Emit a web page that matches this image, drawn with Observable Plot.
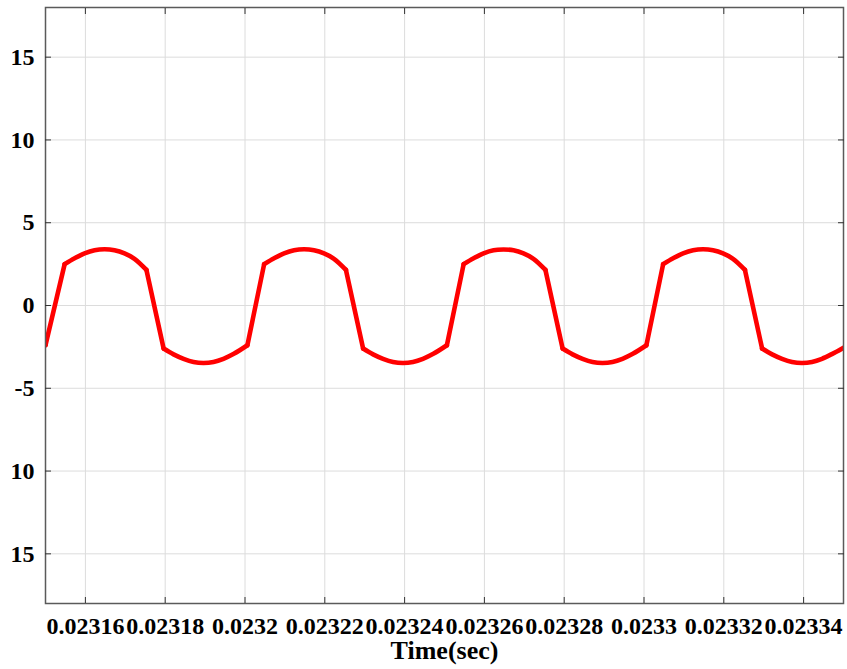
<!DOCTYPE html>
<html>
<head>
<meta charset="utf-8">
<script src="https://cdn.jsdelivr.net/npm/d3@7"></script>
<script src="https://cdn.jsdelivr.net/npm/@observablehq/plot@0.6"></script>
<style>
  html, body { margin: 0; padding: 0; background: #fff; }
  #chart { width: 847px; height: 669px; }
</style>
</head>
<body>
<div id="chart"></div>
<script>
// Time stamps (s)
const time = [
  0.0231500,
  0.0231548, 0.0231573, 0.0231598, 0.0231623, 0.0231648, 0.0231673, 0.0231698, 0.0231723, 0.0231753,
  0.0231796, 0.0231821, 0.0231846, 0.0231871, 0.0231896, 0.0231921, 0.0231946, 0.0231972, 0.0232006,
  0.0232048, 0.0232073, 0.0232098, 0.0232123, 0.0232148, 0.0232173, 0.0232198, 0.0232223, 0.0232253,
  0.0232296, 0.0232321, 0.0232346, 0.0232371, 0.0232396, 0.0232421, 0.0232446, 0.0232472, 0.0232506,
  0.0232548, 0.0232573, 0.0232598, 0.0232623, 0.0232648, 0.0232673, 0.0232698, 0.0232723, 0.0232753,
  0.0232796, 0.0232821, 0.0232846, 0.0232871, 0.0232896, 0.0232921, 0.0232946, 0.0232972, 0.0233006,
  0.0233048, 0.0233073, 0.0233098, 0.0233123, 0.0233148, 0.0233173, 0.0233198, 0.0233223, 0.0233253,
  0.0233296, 0.0233321, 0.0233346, 0.0233371, 0.0233396, 0.0233421, 0.0233446, 0.0233472, 0.0233500
];
// Signal values
const value = [
  -2.4,
  2.5, 2.85, 3.15, 3.34, 3.4, 3.34, 3.15, 2.82, 2.15,
  -2.6, -2.95, -3.22, -3.41, -3.47, -3.41, -3.22, -2.92, -2.4,
  2.5, 2.85, 3.15, 3.34, 3.4, 3.34, 3.15, 2.82, 2.15,
  -2.6, -2.95, -3.22, -3.41, -3.47, -3.41, -3.22, -2.92, -2.4,
  2.5, 2.85, 3.15, 3.34, 3.38, 3.34, 3.15, 2.82, 2.15,
  -2.6, -2.95, -3.22, -3.41, -3.47, -3.41, -3.22, -2.92, -2.4,
  2.5, 2.85, 3.15, 3.34, 3.4, 3.34, 3.15, 2.82, 2.15,
  -2.6, -2.95, -3.22, -3.41, -3.47, -3.41, -3.22, -2.92, -2.55
];

const xTicks = [0.02316, 0.02318, 0.0232, 0.02322, 0.02324, 0.02326, 0.02328, 0.0233, 0.02332, 0.02334];
const xTickLabels = ["0.02316", "0.02318", "0.0232", "0.02322", "0.02324", "0.02326", "0.02328", "0.0233", "0.02332", "0.02334"];
const yTicks = [-15, -10, -5, 0, 5, 10, 15];
const yTickLabels = ["15", "10", "-5", "0", "5", "10", "15"];
const xDomain = [0.02315, 0.02335];
const yDomain = [-18, 18];
const xLabel = "Time(sec)";

// Split samples into smooth arcs (same sign) and straight switching edges (sign change)
const arcs = [];
const edges = [];
let arcId = 0;
for (let i = 0; i < time.length; i++) {
  if (i > 0 && Math.sign(value[i]) !== Math.sign(value[i - 1])) {
    arcId++;
    edges.push({t: time[i - 1], v: value[i - 1], e: i});
    edges.push({t: time[i], v: value[i], e: i});
  }
  arcs.push({t: time[i], v: value[i], a: arcId});
}

const lineStyle = {x: "t", y: "v", stroke: "#ff0000", strokeWidth: 4.6, strokeLinejoin: "round", strokeLinecap: "round"};

const plot = Plot.plot({
  width: 847,
  height: 669,
  marginLeft: 45,
  marginRight: 4,
  marginTop: 7,
  marginBottom: 66,
  style: {
    fontFamily: "'Liberation Serif', 'Times New Roman', serif",
    fontWeight: "bold",
    fontSize: "24px",
    color: "#000",
    background: "#fff"
  },
  x: {domain: xDomain},
  y: {domain: yDomain},
  marks: [
    Plot.gridX(xTicks, {stroke: "#dcdcdc", strokeOpacity: 1, strokeWidth: 1}),
    Plot.gridY(yTicks, {stroke: "#dcdcdc", strokeOpacity: 1, strokeWidth: 1}),
    Plot.line(arcs, {...lineStyle, z: "a", curve: "catmull-rom", clip: true}),
    Plot.line(edges, {...lineStyle, z: "e", curve: "linear", clip: true}),
    Plot.frame({stroke: "#5a5a5a", strokeWidth: 1.5}),
    Plot.axisX(xTicks, {anchor: "bottom", tickSize: -6, tickPadding: 19, stroke: "#333",
      tickFormat: (d) => xTickLabels[xTicks.indexOf(d)], label: null}),
    Plot.axisX(xTicks, {anchor: "top", tickSize: -6, fill: "none", stroke: "#333", label: null}),
    Plot.axisY(yTicks, {anchor: "left", tickSize: -6, tickPadding: 17, stroke: "#333",
      tickFormat: (d) => yTickLabels[yTicks.indexOf(d)], label: null}),
    Plot.axisY(yTicks, {anchor: "right", tickSize: -6, fill: "none", stroke: "#333", label: null}),
    Plot.text([xLabel], {frameAnchor: "bottom", dy: 55, fontSize: 26, fontWeight: "bold", fill: "#000"})
  ]
});
document.getElementById("chart").appendChild(plot);
</script>
</body>
</html>
